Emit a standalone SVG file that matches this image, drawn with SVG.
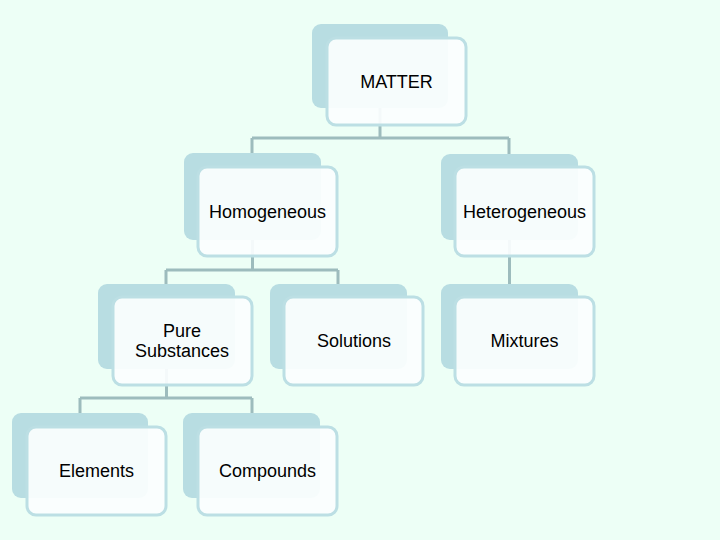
<svg xmlns="http://www.w3.org/2000/svg" width="720" height="540" viewBox="0 0 720 540">
<style>
.back{fill:#b8dde2}
.front{fill:#fbfefe;fill-opacity:0.93;stroke:#bcdfe4;stroke-width:3}
.lbl{font-family:"Liberation Sans",Arial,sans-serif;font-size:18px;fill:#000;text-anchor:middle}
.conn{fill:none;stroke:#9dbcbd;stroke-width:3}
</style>
<rect x="0" y="0" width="720" height="540" fill="#edfff6"/>
<g id="connectors">
<path class="conn" d="M380 107V138M252 138H509M252 138V155M509 138V155"/>
<path class="conn" d="M252.5 240V270M166 270H338M166 270V285M338 270V285"/>
<path class="conn" d="M509.5 240V285"/>
<path class="conn" d="M166.5 369V398M80 398H252M80 398V414M252 398V414"/>
</g>
<g id="matter">
<rect class="back" x="312" y="24" width="136" height="84" rx="9"/>
<rect class="front" x="327" y="38" width="139" height="87" rx="9"/>
<text class="lbl" x="396.5" y="88">MATTER</text>
</g>
<g id="homogeneous">
<rect class="back" x="184" y="153" width="137" height="87" rx="9"/>
<rect class="front" x="198" y="167" width="139" height="89" rx="9"/>
<text class="lbl" x="267.5" y="218">Homogeneous</text>
</g>
<g id="heterogeneous">
<rect class="back" x="441" y="154" width="137" height="86" rx="9"/>
<rect class="front" x="455" y="167" width="139" height="89" rx="9"/>
<text class="lbl" x="524.5" y="218">Heterogeneous</text>
</g>
<g id="pure-substances">
<rect class="back" x="98" y="284" width="137" height="85" rx="9"/>
<rect class="front" x="113" y="297" width="139" height="88" rx="9"/>
<text class="lbl" x="182" y="337">Pure</text>
<text class="lbl" x="182" y="357">Substances</text>
</g>
<g id="solutions">
<rect class="back" x="270" y="284" width="137" height="85" rx="9"/>
<rect class="front" x="284" y="297" width="139" height="88" rx="9"/>
<text class="lbl" x="354" y="347">Solutions</text>
</g>
<g id="mixtures">
<rect class="back" x="441" y="284" width="137" height="85" rx="9"/>
<rect class="front" x="455" y="297" width="139" height="88" rx="9"/>
<text class="lbl" x="524.5" y="347">Mixtures</text>
</g>
<g id="elements">
<rect class="back" x="12" y="413" width="136" height="85" rx="9"/>
<rect class="front" x="27" y="427" width="139" height="88" rx="9"/>
<text class="lbl" x="96.5" y="477">Elements</text>
</g>
<g id="compounds">
<rect class="back" x="183" y="413" width="137" height="85" rx="9"/>
<rect class="front" x="198" y="427" width="139" height="88" rx="9"/>
<text class="lbl" x="267.5" y="477">Compounds</text>
</g>
</svg>
